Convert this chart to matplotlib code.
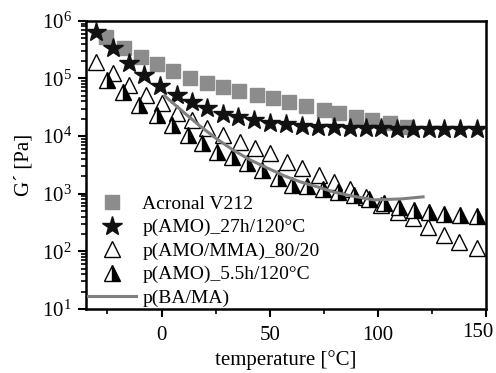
import matplotlib
matplotlib.use("Agg")
import matplotlib.pyplot as plt
from matplotlib.ticker import LogLocator, FixedLocator, NullFormatter

plt.rcParams['font.family'] = ['Liberation Serif', 'DejaVu Serif']
plt.rcParams['mathtext.fontset'] = 'stix'

# Acronal V212
T_acronal = [-25.5, -17.5, -9.5, -2, 5.5, 13, 21, 28.5, 36, 44, 51.5, 59, 67, 75, 82, 90, 97.5, 105.5, 113.5]
G_acronal = [5.3e5, 3.4e5, 2.4e5, 1.8e5, 1.35e5, 1.02e5, 8.4e4, 7.1e4, 6.1e4, 5.2e4, 4.6e4, 3.9e4,
             3.3e4, 2.85e4, 2.5e4, 2.15e4, 1.9e4, 1.7e4, 1.45e4]

# p(AMO)_27h/120°C
T_amo27 = [-30.2, -22.3, -14.9, -7.9, -0.5, 7.0, 14.0, 20.9, 28.4, 35.3, 42.8, 50.2, 57.7, 65.1,
           72.1, 79.5, 87.0, 94.4, 101.4, 108.8, 116.3, 123.7, 130.7, 138.1, 145.6]
G_amo27 = [6.4e5, 3.4e5, 1.87e5, 1.16e5, 7.4e4, 5.2e4, 3.9e4, 3.1e4, 2.4e4, 2.15e4, 1.9e4, 1.7e4,
           1.63e4, 1.5e4, 1.45e4, 1.45e4, 1.39e4, 1.39e4, 1.39e4, 1.33e4, 1.33e4, 1.33e4, 1.33e4,
           1.33e4, 1.33e4]

# p(AMO/MMA)_80/20
T_mma = [-30.2, -22.3, -14.9, -7.4, 0, 7.0, 14.0, 20.9, 28.4, 36.3, 43.3, 50.2, 58.1, 65.1, 72.6,
         79.5, 87.0, 94.4, 101.4, 109.3, 116.3, 123.3, 130.7, 137.7, 145.6]
G_mma = [1.94e5, 1.25e5, 7.7e4, 5.2e4, 3.77e4, 2.53e4, 1.91e4, 1.39e4, 1.05e4, 7.9e3, 6.2e3, 5.1e3,
         3.56e3, 2.8e3, 2.12e3, 1.6e3, 1.21e3, 8.8e2, 6.4e2, 4.8e2, 3.8e2, 2.65e2, 1.93e2, 1.46e2, 1.15e2]

# p(AMO)_5.5h/120°C
T_amo55 = [-25.1, -17.7, -10.2, -2.3, 4.7, 12.1, 18.6, 25.6, 32.6, 39.5, 46.5, 54.0, 60.5, 67.4,
           74.4, 81.4, 88.8, 95.8, 102.8, 109.8, 116.7, 123.7, 130.7, 138.1, 145.6]
G_amo55 = [9.5e4, 5.85e4, 3.48e4, 2.34e4, 1.56e4, 1.05e4, 7.6e3, 5.3e3, 4.36e3, 3.43e3, 2.59e3,
           1.88e3, 1.42e3, 1.37e3, 1.21e3, 1.07e3, 9.5e2, 8.1e2, 6.9e2, 5.9e2, 5.2e2, 4.8e2, 4.5e2,
           4.3e2, 4.1e2]

# p(BA/MA)
T_bama = [1.4, 10.7, 17.7, 25.6, 33.0, 40.9, 48.8, 56.7, 64.2, 72.1, 79.5, 87.4, 98.1, 110.7, 120.9]
G_bama = [5.0e4, 2.5e4, 1.5e4, 8.9e3, 5.75e3, 3.86e3, 2.8e3, 2.04e3, 1.6e3, 1.31e3, 1.07e3, 9.2e2,
          7.8e2, 8.1e2, 8.8e2]

x_ticks = [0, 50, 100, 150]
x_ticklabels = ['0', '50', '100', '150']

fig = plt.figure(figsize=(4.96, 3.73), dpi=100)
ax = fig.add_axes([0.173, 0.172, 0.807, 0.772])

ax.plot(T_acronal, G_acronal, ls='none', marker='s', ms=10.5, color='#8c8c8c', mec='#8c8c8c',
        label='Acronal V212', zorder=2)
ax.plot(T_amo27, G_amo27, ls='none', marker='*', ms=15, color='#111111', mec='#111111',
        label='p(AMO)_27h/120°C', zorder=3)
ax.plot(T_mma, G_mma, ls='none', marker='^', ms=12, mfc='white', mec='black', mew=1.0,
        label='p(AMO/MMA)_80/20', zorder=4)
ax.plot(T_amo55, G_amo55, ls='none', marker='^', ms=12, fillstyle='right', mfc='black',
        mfcalt='white', mec='black', mew=1.0, label='p(AMO)_5.5h/120°C', zorder=5)
ax.plot(T_bama, G_bama, ls='-', lw=2.2, color='#808080', label='p(BA/MA)', zorder=6)

ax.set_yscale('log')
ax.set_xlim(-35, 150)
ax.set_ylim(1e1, 1e6)
ax.xaxis.set_major_locator(FixedLocator(x_ticks))
# last label drawn separately, nudged left so it stays inside the figure
ax.set_xticklabels(x_ticklabels[:-1] + [''])
ax.annotate(x_ticklabels[-1], xy=(x_ticks[-1], 0), xycoords=('data', 'axes fraction'),
            xytext=(-6, -10), textcoords='offset points', ha='center', va='top', fontsize=15)
ax.xaxis.set_minor_locator(FixedLocator([-25, 25, 75, 125]))
ax.yaxis.set_major_locator(LogLocator(base=10, numticks=10))
ax.yaxis.set_minor_locator(LogLocator(base=10, subs=range(2, 10), numticks=20))
ax.yaxis.set_minor_formatter(NullFormatter())

for s in ax.spines.values():
    s.set_linewidth(1.8)
ax.tick_params(which='major', direction='out', length=6, width=1.5, labelsize=15, pad=4)
ax.tick_params(which='minor', direction='out', length=3.5, width=1.2)
ax.tick_params(axis='x', which='major', pad=6)

ax.set_xlabel('temperature [°C]', fontsize=15, labelpad=4)
ax.set_ylabel('G´ [Pa]', fontsize=15, labelpad=6)

leg = ax.legend(loc='lower left', bbox_to_anchor=(0.0, 0.0), frameon=False, fontsize=14,
                handlelength=2.5, handletextpad=0.3, labelspacing=0.3, borderpad=0.1,
                borderaxespad=0.0, numpoints=1)

fig.savefig('out.png', dpi=100)
